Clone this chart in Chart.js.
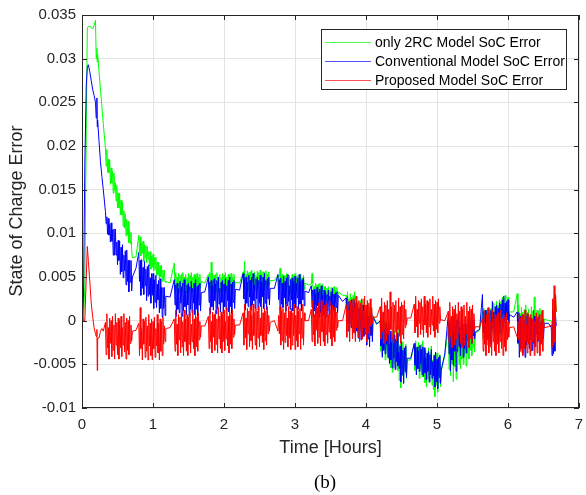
<!DOCTYPE html>
<html>
<head>
<meta charset="utf-8">
<script src="https://cdn.jsdelivr.net/npm/chart.js@4"></script>
<style>
  html, body { margin: 0; padding: 0; background: #fff; }
</style>
</head>
<body>
<canvas id="socChart" width="586" height="495"></canvas>
<script>
// SoC error traces (time in hours)
const time = [
  0, 0.01, 0.02, 0.04, 0.06, 0.075, 0.09, 0.11, 0.13, 0.15, 0.17, 0.19, 0.2, 0.21, 0.215, 0.22, 0.24, 0.26, 0.28, 0.3,
  0.33, 0.34, 0.35, 0.36, 0.37, 0.38, 0.39, 0.4, 0.41, 0.42, 0.43, 0.44, 0.45, 0.46, 0.47, 0.48, 0.49, 0.5, 0.51, 0.52, 0.53, 0.54, 0.55, 0.56, 0.57, 0.58, 0.59, 0.6, 0.61, 0.62, 0.63, 0.64, 0.65, 0.66, 0.67, 0.68, 0.69, 0.7, 0.71, 0.76,
  0.8, 0.81, 0.82, 0.83, 0.84, 0.85, 0.86, 0.87, 0.88, 0.89, 0.9, 0.91, 0.92, 0.93, 0.94, 0.95, 0.96, 0.97, 0.98, 0.99, 1.0, 1.01, 1.02, 1.03, 1.04, 1.05, 1.06, 1.07, 1.08, 1.09, 1.1, 1.11, 1.12, 1.13, 1.14, 1.15, 1.16, 1.17, 1.18, 1.24,
  1.3, 1.31, 1.32, 1.33, 1.34, 1.35, 1.36, 1.37, 1.38, 1.39, 1.4, 1.41, 1.42, 1.43, 1.44, 1.45, 1.46, 1.47, 1.48, 1.49, 1.5, 1.51, 1.52, 1.53, 1.54, 1.55, 1.56, 1.57, 1.58, 1.59, 1.6, 1.61, 1.62, 1.63, 1.64, 1.65, 1.66, 1.67, 1.68, 1.73,
  1.78, 1.79, 1.8, 1.81, 1.82, 1.83, 1.84, 1.85, 1.86, 1.87, 1.88, 1.89, 1.9, 1.91, 1.92, 1.93, 1.94, 1.95, 1.96, 1.97, 1.98, 1.99, 2.0, 2.01, 2.02, 2.03, 2.04, 2.05, 2.06, 2.07, 2.08, 2.09, 2.1, 2.11, 2.12, 2.13, 2.14, 2.15, 2.16, 2.22,
  2.27, 2.28, 2.29, 2.3, 2.31, 2.32, 2.33, 2.34, 2.35, 2.36, 2.37, 2.38, 2.39, 2.4, 2.41, 2.42, 2.43, 2.44, 2.45, 2.46, 2.47, 2.48, 2.49, 2.5, 2.51, 2.52, 2.53, 2.54, 2.55, 2.56, 2.57, 2.58, 2.59, 2.6, 2.61, 2.62, 2.63, 2.64, 2.65, 2.71,
  2.76, 2.77, 2.78, 2.79, 2.8, 2.81, 2.82, 2.83, 2.84, 2.85, 2.86, 2.87, 2.88, 2.89, 2.9, 2.91, 2.92, 2.93, 2.94, 2.95, 2.96, 2.97, 2.98, 2.99, 3.0, 3.01, 3.02, 3.03, 3.04, 3.05, 3.06, 3.07, 3.08, 3.09, 3.1, 3.11, 3.12, 3.13, 3.14, 3.19,
  3.23, 3.24, 3.25, 3.26, 3.27, 3.28, 3.29, 3.3, 3.31, 3.32, 3.33, 3.34, 3.35, 3.36, 3.37, 3.38, 3.39, 3.4, 3.41, 3.42, 3.43, 3.44, 3.45, 3.46, 3.47, 3.48, 3.49, 3.5, 3.51, 3.52, 3.53, 3.54, 3.55, 3.56, 3.57, 3.58, 3.59, 3.6, 3.61, 3.67,
  3.72, 3.73, 3.74, 3.75, 3.76, 3.77, 3.78, 3.79, 3.8, 3.81, 3.82, 3.83, 3.84, 3.85, 3.86, 3.87, 3.88, 3.89, 3.9, 3.91, 3.92, 3.93, 3.94, 3.95, 3.96, 3.97, 3.98, 3.99, 4.0, 4.01, 4.02, 4.03, 4.04, 4.05, 4.06, 4.07, 4.08, 4.09, 4.1, 4.15,
  4.2, 4.21, 4.22, 4.23, 4.24, 4.25, 4.26, 4.27, 4.28, 4.29, 4.3, 4.31, 4.32, 4.33, 4.34, 4.35, 4.36, 4.37, 4.38, 4.39, 4.4, 4.41, 4.42, 4.43, 4.44, 4.45, 4.46, 4.47, 4.48, 4.49, 4.5, 4.51, 4.52, 4.53, 4.54, 4.55, 4.56, 4.57, 4.58, 4.63,
  4.68, 4.69, 4.7, 4.71, 4.72, 4.73, 4.74, 4.75, 4.76, 4.77, 4.78, 4.79, 4.8, 4.81, 4.82, 4.83, 4.84, 4.85, 4.86, 4.87, 4.88, 4.89, 4.9, 4.91, 4.92, 4.93, 4.94, 4.95, 4.96, 4.97, 4.98, 4.99, 5.0, 5.01, 5.02, 5.03, 5.04, 5.05, 5.06, 5.11,
  5.16, 5.17, 5.18, 5.19, 5.2, 5.21, 5.22, 5.23, 5.24, 5.25, 5.26, 5.27, 5.28, 5.29, 5.3, 5.31, 5.32, 5.33, 5.34, 5.35, 5.36, 5.37, 5.38, 5.39, 5.4, 5.41, 5.42, 5.43, 5.44, 5.45, 5.46, 5.47, 5.48, 5.49, 5.5, 5.51, 5.52, 5.53, 5.54, 5.6,
  5.64, 5.65, 5.66, 5.67, 5.68, 5.69, 5.7, 5.71, 5.72, 5.73, 5.74, 5.75, 5.76, 5.77, 5.78, 5.79, 5.8, 5.81, 5.82, 5.83, 5.84, 5.85, 5.86, 5.87, 5.88, 5.89, 5.9, 5.91, 5.92, 5.93, 5.94, 5.95, 5.96, 5.97, 5.98, 5.99, 6.0, 6.01, 6.02, 6.08,
  6.13, 6.14, 6.15, 6.16, 6.17, 6.18, 6.19, 6.2, 6.21, 6.22, 6.23, 6.24, 6.25, 6.26, 6.27, 6.28, 6.29, 6.3, 6.31, 6.32, 6.33, 6.34, 6.35, 6.36, 6.37, 6.38, 6.39, 6.4, 6.41, 6.42, 6.43, 6.44, 6.45, 6.46, 6.47, 6.48, 6.49, 6.5, 6.51, 6.57,
  6.61, 6.62, 6.63, 6.64, 6.65, 6.66, 6.67, 6.68
];

const only2RC = [
  0, 0, 0, 40e-4, 220e-4, 335e-4, 337e-4, 337e-4, 336e-4, 334e-4, 338e-4, 344e-4, 300e-4, 312e-4, 296e-4, 305e-4, 285e-4, 265e-4, 245e-4, 225e-4,
  198e-4, 177e-4, 196e-4, 170e-4, 185e-4, 169e-4, 184e-4, 156e-4, 175e-4, 158e-4, 171e-4, 146e-4, 169e-4, 149e-4, 158e-4, 137e-4, 155e-4, 129e-4, 146e-4, 129e-4, 146e-4, 121e-4, 138e-4, 121e-4, 136e-4, 108e-4, 126e-4, 106e-4, 122e-4, 97e-4, 116e-4, 98e-4, 114e-4, 89e-4, 104e-4, 88e-4, 101e-4, 80e-4, 72e-4, 73e-4,
  98e-4, 78e-4, 96e-4, 74e-4, 89e-4, 77e-4, 91e-4, 68e-4, 87e-4, 72e-4, 86e-4, 66e-4, 85e-4, 70e-4, 79e-4, 63e-4, 79e-4, 59e-4, 74e-4, 61e-4, 76e-4, 57e-4, 72e-4, 59e-4, 73e-4, 52e-4, 67e-4, 52e-4, 67e-4, 47e-4, 63e-4, 50e-4, 63e-4, 45e-4, 58e-4, 47e-4, 58e-4, 44e-4, 45e-4, 43e-4,
  66e-4, 37e-4, 55e-4, 34e-4, 50e-4, 39e-4, 54e-4, 32e-4, 52e-4, 38e-4, 53e-4, 33e-4, 55e-4, 40e-4, 50e-4, 34e-4, 53e-4, 32e-4, 49e-4, 37e-4, 54e-4, 34e-4, 52e-4, 39e-4, 55e-4, 33e-4, 50e-4, 35e-4, 53e-4, 32e-4, 52e-4, 38e-4, 54e-4, 34e-4, 50e-4, 39e-4, 53e-4, 37e-4, 45e-4, 43e-4,
  53e-4, 37e-4, 55e-4, 34e-4, 67e-4, 39e-4, 54e-4, 32e-4, 52e-4, 38e-4, 53e-4, 33e-4, 55e-4, 40e-4, 50e-4, 34e-4, 53e-4, 32e-4, 49e-4, 37e-4, 54e-4, 34e-4, 52e-4, 39e-4, 55e-4, 33e-4, 50e-4, 35e-4, 53e-4, 32e-4, 52e-4, 38e-4, 54e-4, 34e-4, 50e-4, 39e-4, 53e-4, 37e-4, 44e-4, 43e-4,
  56e-4, 40e-4, 68e-4, 37e-4, 53e-4, 42e-4, 57e-4, 35e-4, 55e-4, 41e-4, 56e-4, 36e-4, 58e-4, 43e-4, 53e-4, 37e-4, 56e-4, 35e-4, 52e-4, 40e-4, 57e-4, 37e-4, 55e-4, 42e-4, 58e-4, 36e-4, 53e-4, 38e-4, 56e-4, 35e-4, 55e-4, 41e-4, 57e-4, 37e-4, 53e-4, 42e-4, 56e-4, 40e-4, 46e-4, 46e-4,
  52e-4, 36e-4, 54e-4, 60e-4, 49e-4, 38e-4, 53e-4, 31e-4, 51e-4, 37e-4, 52e-4, 32e-4, 54e-4, 39e-4, 49e-4, 33e-4, 52e-4, 31e-4, 48e-4, 36e-4, 53e-4, 33e-4, 51e-4, 38e-4, 54e-4, 32e-4, 49e-4, 34e-4, 52e-4, 31e-4, 51e-4, 37e-4, 53e-4, 33e-4, 49e-4, 38e-4, 52e-4, 36e-4, 43e-4, 41e-4,
  42e-4, 54e-4, 43e-4, 27e-4, 39e-4, 31e-4, 43e-4, 25e-4, 41e-4, 30e-4, 42e-4, 26e-4, 43e-4, 31e-4, 39e-4, 27e-4, 42e-4, 25e-4, 39e-4, 25e-4, 39e-4, 23e-4, 37e-4, 27e-4, 39e-4, 22e-4, 35e-4, 23e-4, 38e-4, 21e-4, 37e-4, 26e-4, 39e-4, 23e-4, 35e-4, 27e-4, 38e-4, 25e-4, 33e-4, 29e-4,
  29e-4, 1e-4, 33e-4, -3e-4, 25e-4, 5e-4, 31e-4, -7e-4, 27e-4, 3e-4, 29e-4, -5e-4, 33e-4, 0, 17e-4, -10e-4, 21e-4, -14e-4, 15e-4, -6e-4, 23e-4, -10e-4, 19e-4, -2e-4, 25e-4, -12e-4, 9e-4, -15e-4, 13e-4, -21e-4, 11e-4, -12e-4, 15e-4, -17e-4, 9e-4, -10e-4, 13e-4, -13e-4, 6e-4, -3e-4,
  -2e-4, -35e-4, 3e-4, -40e-4, -7e-4, -31e-4, 1e-4, -45e-4, -4e-4, -33e-4, -2e-4, -43e-4, 3e-4, -42e-4, -19e-4, -54e-4, -14e-4, -59e-4, -22e-4, -49e-4, -12e-4, -54e-4, -17e-4, -44e-4, -9e-4, -57e-4, -32e-4, -69e-4, -27e-4, -77e-4, -29e-4, -63e-4, -24e-4, -71e-4, -32e-4, -60e-4, -27e-4, -66e-4, -45e-4, -45e-4,
  -27e-4, -57e-4, -23e-4, -62e-4, -32e-4, -53e-4, -25e-4, -66e-4, -29e-4, -55e-4, -27e-4, -64e-4, -23e-4, -60e-4, -38e-4, -71e-4, -34e-4, -76e-4, -41e-4, -67e-4, -31e-4, -71e-4, -36e-4, -62e-4, -29e-4, -74e-4, -45e-4, -79e-4, -39e-4, -87e-4, -42e-4, -74e-4, -37e-4, -82e-4, -45e-4, -71e-4, -39e-4, -76e-4, -58e-4, -40e-4,
  -7e-4, -56e-4, 0, -63e-4, -14e-4, -49e-4, -4e-4, -70e-4, -11e-4, -53e-4, -7e-4, -67e-4, 0, -36e-4, -12e-4, -50e-4, -6e-4, -55e-4, -15e-4, -44e-4, -4e-4, -50e-4, -9e-4, -39e-4, -1e-4, -52e-4, -10e-4, -38e-4, -6e-4, -44e-4, -8e-4, -34e-4, -4e-4, -40e-4, -10e-4, -31e-4, -6e-4, -36e-4, -14e-4, -11e-4,
  10e-4, -20e-4, 14e-4, -24e-4, 6e-4, -15e-4, 12e-4, -28e-4, 8e-4, -18e-4, 10e-4, -26e-4, 14e-4, -5e-4, 15e-4, -16e-4, 20e-4, -20e-4, 13e-4, -11e-4, 22e-4, -16e-4, 17e-4, -7e-4, 24e-4, -18e-4, 22e-4, -6e-4, 27e-4, -12e-4, 25e-4, -1e-4, 29e-4, -8e-4, 22e-4, 1e-4, 27e-4, -3e-4, 10e-4, 10e-4,
  31e-4, -24e-4, 18e-4, -29e-4, 8e-4, -18e-4, 15e-4, -34e-4, 10e-4, -21e-4, 13e-4, -31e-4, 18e-4, -12e-4, 9e-4, -23e-4, 13e-4, -28e-4, 7e-4, -19e-4, 16e-4, -23e-4, 11e-4, -14e-4, 27e-4, -26e-4, 9e-4, -15e-4, 12e-4, -20e-4, 11e-4, -11e-4, 14e-4, -16e-4, 9e-4, -9e-4, 12e-4, -13e-4, 2e-4, 0,
  0, -25e-4, 22e-4, -28e-4, 27e-4, -20e-4, 25e-4, 10e-4
];

const conventional = [
  0, 0, 20e-4, 180e-4, 270e-4, 290e-4, 293e-4, 285e-4, 275e-4, 265e-4, 258e-4, 250e-4, 232e-4, 255e-4, 222e-4, 230e-4, 205e-4, 182e-4, 165e-4, 150e-4,
  125e-4, 111e-4, 119e-4, 99e-4, 117e-4, 98e-4, 110e-4, 90e-4, 112e-4, 91e-4, 104e-4, 75e-4, 105e-4, 75e-4, 105e-4, 75e-4, 90e-4, 64e-4, 92e-4, 69e-4, 91e-4, 53e-4, 84e-4, 56e-4, 87e-4, 49e-4, 75e-4, 57e-4, 80e-4, 41e-4, 81e-4, 45e-4, 69e-4, 33e-4, 69e-4, 44e-4, 69e-4, 34e-4, 50e-4, 60e-4,
  78e-4, 45e-4, 69e-4, 29e-4, 70e-4, 37e-4, 61e-4, 30e-4, 68e-4, 40e-4, 59e-4, 23e-4, 62e-4, 28e-4, 64e-4, 30e-4, 49e-4, 20e-4, 54e-4, 29e-4, 54e-4, 14e-4, 47e-4, 21e-4, 52e-4, 15e-4, 42e-4, 24e-4, 46e-4, 9e-4, 48e-4, 14e-4, 38e-4, 4e-4, 38e-4, 14e-4, 38e-4, 6e-4, 28e-4, 27e-4,
  47e-4, 18e-4, 41e-4, 5e-4, 43e-4, 13e-4, 37e-4, 9e-4, 45e-4, 20e-4, 39e-4, 5e-4, 43e-4, 11e-4, 47e-4, 16e-4, 34e-4, 7e-4, 41e-4, 18e-4, 43e-4, 5e-4, 39e-4, 13e-4, 45e-4, 9e-4, 37e-4, 20e-4, 43e-4, 7e-4, 47e-4, 13e-4, 39e-4, 5e-4, 41e-4, 18e-4, 43e-4, 11e-4, 32e-4, 33e-4,
  50e-4, 21e-4, 44e-4, 8e-4, 46e-4, 16e-4, 40e-4, 12e-4, 48e-4, 23e-4, 42e-4, 8e-4, 46e-4, 14e-4, 50e-4, 19e-4, 37e-4, 10e-4, 44e-4, 21e-4, 46e-4, 8e-4, 42e-4, 16e-4, 48e-4, 12e-4, 40e-4, 23e-4, 46e-4, 10e-4, 50e-4, 16e-4, 42e-4, 8e-4, 44e-4, 21e-4, 46e-4, 14e-4, 36e-4, 35e-4,
  54e-4, 25e-4, 48e-4, 12e-4, 50e-4, 20e-4, 44e-4, 16e-4, 52e-4, 27e-4, 46e-4, 12e-4, 50e-4, 18e-4, 54e-4, 23e-4, 41e-4, 14e-4, 48e-4, 25e-4, 50e-4, 12e-4, 46e-4, 20e-4, 52e-4, 16e-4, 44e-4, 27e-4, 50e-4, 14e-4, 54e-4, 20e-4, 46e-4, 12e-4, 48e-4, 25e-4, 50e-4, 18e-4, 37e-4, 37e-4,
  53e-4, 24e-4, 47e-4, 11e-4, 49e-4, 19e-4, 43e-4, 15e-4, 51e-4, 26e-4, 45e-4, 11e-4, 49e-4, 17e-4, 53e-4, 22e-4, 40e-4, 13e-4, 47e-4, 24e-4, 49e-4, 11e-4, 45e-4, 19e-4, 51e-4, 15e-4, 43e-4, 26e-4, 49e-4, 13e-4, 53e-4, 19e-4, 45e-4, 11e-4, 47e-4, 24e-4, 49e-4, 17e-4, 34e-4, 32e-4,
  40e-4, 15e-4, 35e-4, 4e-4, 36e-4, 11e-4, 31e-4, 7e-4, 38e-4, 17e-4, 33e-4, 4e-4, 36e-4, 9e-4, 40e-4, 13e-4, 29e-4, 6e-4, 35e-4, 15e-4, 33e-4, 4e-4, 30e-4, 11e-4, 35e-4, 7e-4, 28e-4, 17e-4, 33e-4, 6e-4, 37e-4, 11e-4, 30e-4, 4e-4, 32e-4, 15e-4, 33e-4, 9e-4, 29e-4, 22e-4,
  26e-4, -1e-4, 20e-4, -12e-4, 22e-4, -4e-4, 17e-4, -8e-4, 24e-4, 1e-4, 18e-4, -12e-4, 22e-4, -16e-4, 20e-4, -12e-4, 7e-4, -20e-4, 14e-4, -9e-4, 16e-4, -22e-4, 12e-4, -14e-4, 18e-4, -18e-4, 2e-4, -15e-4, 9e-4, -28e-4, 13e-4, -21e-4, 4e-4, -30e-4, 7e-4, -17e-4, 9e-4, -24e-4, 4e-4, -4e-4,
  0, -29e-4, -6e-4, -42e-4, -4e-4, -34e-4, -10e-4, -38e-4, -2e-4, -27e-4, -8e-4, -42e-4, -4e-4, -49e-4, -12e-4, -45e-4, -25e-4, -54e-4, -19e-4, -43e-4, -16e-4, -56e-4, -21e-4, -47e-4, -14e-4, -52e-4, -36e-4, -55e-4, -29e-4, -70e-4, -24e-4, -62e-4, -34e-4, -72e-4, -31e-4, -58e-4, -29e-4, -65e-4, -43e-4, -43e-4,
  -26e-4, -51e-4, -31e-4, -62e-4, -30e-4, -55e-4, -35e-4, -58e-4, -28e-4, -49e-4, -33e-4, -62e-4, -30e-4, -64e-4, -31e-4, -60e-4, -43e-4, -68e-4, -37e-4, -58e-4, -35e-4, -70e-4, -39e-4, -62e-4, -33e-4, -66e-4, -47e-4, -63e-4, -40e-4, -76e-4, -36e-4, -70e-4, -44e-4, -78e-4, -42e-4, -65e-4, -40e-4, -72e-4, -56e-4, -38e-4,
  8e-4, -38e-4, -2e-4, -58e-4, 1e-4, -45e-4, -8e-4, -51e-4, 5e-4, -35e-4, -5e-4, -58e-4, 1e-4, -35e-4, 6e-4, -30e-4, -8e-4, -40e-4, -1e-4, -28e-4, 1e-4, -42e-4, -4e-4, -32e-4, 4e-4, -37e-4, -4e-4, -16e-4, 1e-4, -24e-4, 4e-4, -20e-4, -2e-4, -26e-4, 0, -17e-4, 1e-4, -21e-4, -13e-4, -10e-4,
  30e-4, -13e-4, 10e-4, -26e-4, 12e-4, -18e-4, 6e-4, -22e-4, 14e-4, -11e-4, 8e-4, -26e-4, 12e-4, -12e-4, 22e-4, -8e-4, 10e-4, -16e-4, 16e-4, -6e-4, 18e-4, -18e-4, 14e-4, -10e-4, 20e-4, -14e-4, 19e-4, 3e-4, 24e-4, -8e-4, 28e-4, -2e-4, 20e-4, -10e-4, 22e-4, 1e-4, 24e-4, -4e-4, 7e-4, 4e-4,
  10e-4, -26e-4, 2e-4, -42e-4, 5e-4, -32e-4, -3e-4, -37e-4, 7e-4, -24e-4, 0, -42e-4, 5e-4, -28e-4, 7e-4, -24e-4, -5e-4, -32e-4, 1e-4, -22e-4, 3e-4, -34e-4, -1e-4, -26e-4, 5e-4, -30e-4, -4e-4, -16e-4, 1e-4, -24e-4, 4e-4, -20e-4, -2e-4, -26e-4, 0, -17e-4, 1e-4, -21e-4, -3e-4, -3e-4,
  -8e-4, -40e-4, 12e-4, -38e-4, 8e-4, -35e-4, 5e-4, -6e-4
];

const proposed = [
  27e-4, 5e-4, 0, 0, 50e-4, 85e-4, 68e-4, 45e-4, 20e-4, 5e-4, -8e-4, -15e-4, -18e-4, -10e-4, -57e-4, -20e-4, -20e-4, -12e-4, -9e-4, -12e-4,
  -2e-4, -39e-4, 8e-4, -31e-4, -8e-4, -44e-4, 3e-4, -26e-4, 0, -41e-4, 5e-4, -34e-4, -5e-4, -44e-4, 8e-4, -28e-4, -2e-4, -39e-4, 3e-4, -44e-4, 0, -31e-4, 5e-4, -41e-4, -8e-4, -28e-4, 8e-4, -36e-4, -2e-4, -44e-4, 3e-4, -34e-4, 0, -39e-4, 5e-4, -26e-4, -5e-4, -23e-4, -12e-4, -11e-4,
  -3e-4, -40e-4, 15e-4, -32e-4, -9e-4, -45e-4, 2e-4, -27e-4, -1e-4, -42e-4, 4e-4, -35e-4, -6e-4, -45e-4, 7e-4, -29e-4, -3e-4, -40e-4, 2e-4, -45e-4, -1e-4, -32e-4, 4e-4, -42e-4, -9e-4, -29e-4, 7e-4, -37e-4, -3e-4, -45e-4, 2e-4, -35e-4, -1e-4, -40e-4, 4e-4, -27e-4, -6e-4, -24e-4, -9e-4, -8e-4,
  2e-4, -35e-4, 12e-4, -27e-4, -4e-4, -40e-4, 7e-4, -22e-4, 4e-4, -37e-4, 9e-4, -30e-4, -1e-4, -40e-4, 12e-4, -24e-4, 2e-4, -35e-4, 7e-4, -40e-4, 4e-4, -27e-4, 9e-4, -37e-4, -4e-4, -24e-4, 12e-4, -32e-4, 2e-4, -40e-4, 7e-4, -30e-4, 4e-4, -35e-4, 9e-4, -22e-4, -1e-4, -19e-4, -6e-4, -6e-4,
  5e-4, -32e-4, 15e-4, -24e-4, -1e-4, -37e-4, 10e-4, -19e-4, 7e-4, -34e-4, 12e-4, -27e-4, 2e-4, -37e-4, 15e-4, -21e-4, 5e-4, -32e-4, 10e-4, -37e-4, 7e-4, -24e-4, 12e-4, -34e-4, -1e-4, -21e-4, 15e-4, -29e-4, 5e-4, -37e-4, 10e-4, -27e-4, 7e-4, -32e-4, 12e-4, -19e-4, 2e-4, -16e-4, -5e-4, -5e-4,
  9e-4, -28e-4, 19e-4, -20e-4, 3e-4, -33e-4, 14e-4, -15e-4, 11e-4, -30e-4, 16e-4, -23e-4, 6e-4, -33e-4, 19e-4, -17e-4, 9e-4, -28e-4, 14e-4, -33e-4, 11e-4, -20e-4, 16e-4, -30e-4, 3e-4, -17e-4, 19e-4, -25e-4, 9e-4, -33e-4, 14e-4, -23e-4, 11e-4, -28e-4, 16e-4, -15e-4, 6e-4, -12e-4, -2e-4, 0,
  -12e-4, 6e-4, -15e-4, 16e-4, -28e-4, 11e-4, -23e-4, 14e-4, -33e-4, 9e-4, -25e-4, 19e-4, -17e-4, 3e-4, -30e-4, 16e-4, -20e-4, 11e-4, -33e-4, 14e-4, -28e-4, 9e-4, -17e-4, 19e-4, -33e-4, 6e-4, -23e-4, 16e-4, -30e-4, 11e-4, -15e-4, 14e-4, -33e-4, 3e-4, -20e-4, 19e-4, -28e-4, 9e-4, 0, 0,
  13e-4, -24e-4, 23e-4, -16e-4, 7e-4, -29e-4, 18e-4, -11e-4, 15e-4, -26e-4, 20e-4, -19e-4, 10e-4, -29e-4, 23e-4, -13e-4, 13e-4, -24e-4, 18e-4, -29e-4, 15e-4, -16e-4, 20e-4, -26e-4, 7e-4, -13e-4, 23e-4, -21e-4, 13e-4, -29e-4, 18e-4, -19e-4, 15e-4, -24e-4, 20e-4, -11e-4, 10e-4, -8e-4, 0, 0,
  18e-4, -19e-4, 28e-4, -11e-4, 12e-4, -24e-4, 23e-4, -6e-4, 20e-4, -21e-4, 25e-4, -14e-4, 15e-4, -24e-4, 28e-4, -8e-4, 18e-4, -19e-4, 23e-4, -24e-4, 20e-4, -11e-4, 25e-4, -21e-4, 12e-4, -8e-4, 28e-4, -16e-4, 18e-4, -24e-4, 23e-4, -14e-4, 20e-4, -19e-4, 25e-4, -6e-4, 15e-4, -3e-4, 4e-4, 4e-4,
  16e-4, -21e-4, 26e-4, -13e-4, 10e-4, -26e-4, 21e-4, -8e-4, 18e-4, -23e-4, 23e-4, -16e-4, 13e-4, -26e-4, 33e-4, -10e-4, 16e-4, -21e-4, 21e-4, -26e-4, 18e-4, -13e-4, 23e-4, -23e-4, 10e-4, -10e-4, 26e-4, -18e-4, 16e-4, -26e-4, 21e-4, -16e-4, 18e-4, -21e-4, 23e-4, -8e-4, 13e-4, -5e-4, 3e-4, 3e-4,
  19e-4, -14e-4, 28e-4, -7e-4, 13e-4, -19e-4, 23e-4, -3e-4, 21e-4, -16e-4, 25e-4, -10e-4, 16e-4, -19e-4, 28e-4, -5e-4, 19e-4, -14e-4, 23e-4, -19e-4, 21e-4, -7e-4, 25e-4, -16e-4, 13e-4, -5e-4, 28e-4, -12e-4, 19e-4, -19e-4, 23e-4, -10e-4, 21e-4, -14e-4, 25e-4, -3e-4, 16e-4, 0, 1e-4, 0,
  11e-4, -26e-4, 21e-4, -18e-4, 5e-4, -31e-4, 16e-4, -13e-4, 13e-4, -28e-4, 18e-4, -21e-4, 8e-4, -31e-4, 21e-4, -15e-4, 11e-4, -26e-4, 16e-4, -31e-4, 13e-4, -18e-4, 18e-4, -28e-4, 5e-4, -15e-4, 21e-4, -23e-4, 11e-4, -31e-4, 16e-4, -21e-4, 13e-4, -26e-4, 18e-4, -13e-4, 8e-4, -10e-4, -7e-4, -7e-4,
  2e-4, -35e-4, 12e-4, -27e-4, -4e-4, -40e-4, 7e-4, -22e-4, 15e-4, -37e-4, 9e-4, -30e-4, -1e-4, -40e-4, 12e-4, -24e-4, 2e-4, -35e-4, 7e-4, -40e-4, 4e-4, -27e-4, 9e-4, -37e-4, -4e-4, -24e-4, 12e-4, -32e-4, 2e-4, -40e-4, 7e-4, -30e-4, 4e-4, -35e-4, 9e-4, -22e-4, -1e-4, -19e-4, -8e-4, -7e-4,
  -19e-4, -1e-4, -22e-4, 9e-4, -35e-4, 4e-4, -30e-4, 7e-4, -40e-4, 2e-4, -32e-4, 12e-4, -24e-4, -4e-4, -37e-4, 9e-4, -27e-4, 4e-4, -40e-4, 7e-4, -35e-4, 2e-4, -24e-4, 12e-4, -40e-4, -1e-4, -30e-4, 9e-4, -37e-4, 4e-4, -22e-4, 7e-4, -40e-4, -4e-4, -27e-4, 12e-4, -35e-4, 2e-4, -8e-4, -7e-4,
  -5e-4, -30e-4, 25e-4, -28e-4, 40e-4, -25e-4, 30e-4, 10e-4
];

const seriesNames = ['only 2RC Model SoC Error', 'Conventional Model SoC Error', 'Proposed Model SoC Error'];
const seriesColors = ['#00ff00', '#0000ff', '#ff0000'];
const legendColors = ['#55ff55', '#5555ff', '#ff5555'];

const xTicks = [0, 1, 2, 3, 4, 5, 6, 7];
const xTickLabels = ['0', '1', '2', '3', '4', '5', '6', '7'];
const yTicks = [-0.01, -0.005, 0, 0.005, 0.01, 0.015, 0.02, 0.025, 0.03, 0.035];
const yTickLabels = ['-0.01', '-0.005', '0', '0.005', '0.01', '0.015', '0.02', '0.025', '0.03', '0.035'];

const sans = '"Liberation Sans", Arial, sans-serif';
const axisColor = '#262626';

// titles, legend, caption and matlab style box with inward ticks
const decor = {
  id: 'decor',
  afterDraw(chart) {
    const { ctx, chartArea: a, scales: { x, y } } = chart;
    ctx.save();
    ctx.strokeStyle = axisColor;
    ctx.lineWidth = 1;
    ctx.strokeRect(a.left + 0.5, a.top + 0.5, a.right - a.left - 1, a.bottom - a.top - 1);
    ctx.beginPath();
    xTicks.forEach(v => {
      const px = Math.round(x.getPixelForValue(v)) + 0.5;
      ctx.moveTo(px, a.bottom); ctx.lineTo(px, a.bottom - 5);
      ctx.moveTo(px, a.top); ctx.lineTo(px, a.top + 5);
    });
    yTicks.forEach(v => {
      const py = Math.round(y.getPixelForValue(v)) + 0.5;
      ctx.moveTo(a.left, py); ctx.lineTo(a.left + 5, py);
      ctx.moveTo(a.right, py); ctx.lineTo(a.right - 5, py);
    });
    ctx.stroke();

    // axis titles
    ctx.fillStyle = axisColor;
    ctx.font = '18px ' + sans;
    ctx.textAlign = 'center';
    ctx.textBaseline = 'middle';
    ctx.fillText('Time [Hours]', (a.left + a.right) / 2, 448);
    ctx.save();
    ctx.translate(17, 211);
    ctx.rotate(-Math.PI / 2);
    ctx.fillText('State of Charge Error', 0, 0);
    ctx.restore();

    // caption
    ctx.fillStyle = '#000';
    ctx.font = '19px "Liberation Serif", "Times New Roman", serif';
    ctx.fillText('(b)', 325, 483);

    // legend
    ctx.fillStyle = '#fff';
    ctx.fillRect(321, 29, 245, 60);
    ctx.strokeStyle = axisColor;
    ctx.strokeRect(321.5, 29.5, 245, 60);
    ctx.font = '14px ' + sans;
    ctx.textAlign = 'left';
    seriesNames.forEach((name, i) => {
      const ly = 42 + i * 19;
      ctx.strokeStyle = legendColors[i];
      ctx.beginPath();
      ctx.moveTo(325, ly + 0.5); ctx.lineTo(371, ly + 0.5);
      ctx.stroke();
      ctx.fillStyle = '#000';
      ctx.fillText(name, 375, ly + 1);
    });
    ctx.restore();
  }
};

const seriesValues = [only2RC, conventional, proposed];

new Chart(document.getElementById('socChart'), {
  type: 'line',
  data: {
    datasets: seriesValues.map((vals, i) => ({
      label: seriesNames[i],
      data: time.map((t, k) => ({ x: t, y: vals[k] })),
      borderColor: seriesColors[i],
      borderWidth: 1,
      pointRadius: 0,
      tension: 0,
      order: 3 - i
    }))
  },
  options: {
    responsive: false,
    animation: false,
    devicePixelRatio: 1,
    layout: { padding: { top: 14, right: 7, left: 0, bottom: 0 } },
    plugins: {
      legend: { display: false },
      tooltip: { enabled: false }
    },
    scales: {
      x: {
        type: 'linear',
        min: 0,
        max: 7,
        afterBuildTicks: s => { s.ticks = xTicks.map(v => ({ value: v })); },
        afterFit: s => { s.height = 87; s.paddingLeft = 0; s.paddingRight = 0; },
        border: { display: false },
        grid: { color: '#e3e3e3', drawTicks: false },
        ticks: {
          padding: 8,
          color: axisColor,
          font: { family: sans, size: 15 },
          callback: (v, i) => xTickLabels[i]
        }
      },
      y: {
        type: 'linear',
        min: -0.01,
        max: 0.035,
        afterBuildTicks: s => { s.ticks = yTicks.map(v => ({ value: v })); },
        afterFit: s => { s.width = 82; },
        border: { display: false },
        grid: { color: '#e3e3e3', drawTicks: false },
        ticks: {
          padding: 6,
          color: axisColor,
          font: { family: sans, size: 15 },
          callback: (v, i) => yTickLabels[i]
        }
      }
    }
  },
  plugins: [decor]
});
</script>
</body>
</html>
